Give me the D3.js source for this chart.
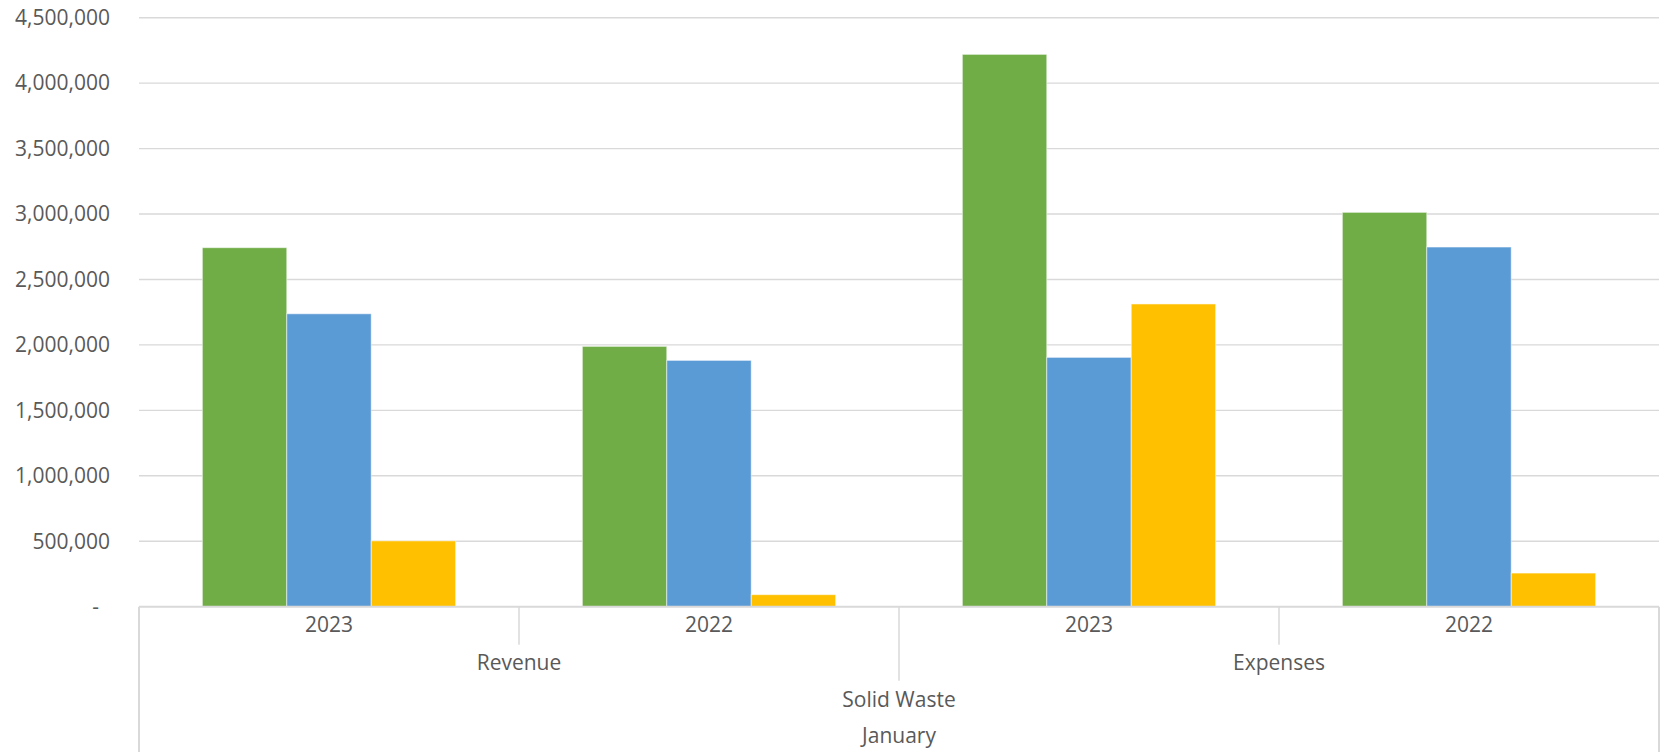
<!DOCTYPE html>
<html>
<head>
<meta charset="utf-8">
<script src="https://cdn.jsdelivr.net/npm/d3@7"></script>
<style>
  html, body { margin: 0; padding: 0; background: #fff; }
  svg { display: block; }
</style>
</head>
<body>
<svg id="chart" width="1661" height="752"></svg>
<script>
// Solid Waste, January: revenue and expenses by year, three series
const years = ["2023", "2022", "2023", "2022"];
const groups = ["Revenue", "Expenses"];
const department = "Solid Waste";
const month = "January";

const seriesGreen  = [2743000, 1989000, 4220000, 3013000];
const seriesBlue   = [2238000, 1882000, 1905000, 2748000];
const seriesYellow = [503000,  92000,   2313000, 257000];

const seriesColors = ["#70AD47", "#5B9BD5", "#FFC000"];
const yTicks = [0, 500000, 1000000, 1500000, 2000000, 2500000, 3000000, 3500000, 4000000, 4500000];

const W = 1661, H = 752;
const plot = { left: 139, right: 1659, top: 17.7, bottom: 606.7 };

const svg = d3.select("#chart");
const series = [seriesGreen, seriesBlue, seriesYellow];

const y = d3.scaleLinear().domain([0, 4500000]).range([plot.bottom, plot.top]);

const x0 = d3.scaleBand()
  .domain(d3.range(years.length))
  .range([plot.left, plot.right])
  .paddingInner(0).paddingOuter(0);

// gap between clusters is 150% of a bar width
const barW = x0.bandwidth() / (3 + 1.5);
const x1 = d3.scaleBand()
  .domain(d3.range(series.length))
  .range([barW * 0.75, barW * 0.75 + barW * 3])
  .padding(0);

const tickFmt = d3.format(",");

// horizontal gridlines
svg.append("g")
  .selectAll("line")
  .data(yTicks.filter(d => d > 0))
  .join("line")
  .attr("x1", plot.left).attr("x2", plot.right)
  .attr("y1", d => y(d)).attr("y2", d => y(d))
  .attr("stroke", "#d9d9d9").attr("stroke-width", 1.4);

// y tick labels
svg.append("g")
  .selectAll("text")
  .data(yTicks)
  .join("text")
  .attr("x", d => d === 0 ? 99 : 110)
  .attr("y", d => y(d))
  .attr("dy", "0.35em")
  .attr("text-anchor", "end")
  .attr("font-family", "'Open Sans', 'Noto Sans', sans-serif")
  .attr("font-size", 21)
  .attr("fill", "#595959")
  .text(d => d === 0 ? "-" : tickFmt(d));

// bars
const clusters = svg.append("g")
  .selectAll("g")
  .data(years.map((yr, i) => ({ i, vals: series.map(s => s[i]) })))
  .join("g")
  .attr("transform", d => `translate(${x0(d.i)},0)`);

clusters.selectAll("rect")
  .data(d => d.vals.map((v, k) => ({ v, k })))
  .join("rect")
  .attr("x", d => x1(d.k))
  .attr("width", x1.bandwidth())
  .attr("y", d => y(d.v))
  .attr("height", d => y(0) - y(d.v))
  .attr("fill", d => seriesColors[d.k])
  .attr("stroke", "#ffffff")
  .attr("stroke-opacity", 0.55)
  .attr("stroke-width", 1);

// category axis frame
const axisG = svg.append("g").attr("stroke", "#d9d9d9").attr("fill", "none");
axisG.append("line")
  .attr("x1", plot.left).attr("x2", plot.right)
  .attr("y1", y(0)).attr("y2", y(0))
  .attr("stroke-width", 2);
axisG.append("line")
  .attr("x1", plot.left).attr("x2", plot.left)
  .attr("y1", y(0)).attr("y2", H)
  .attr("stroke-width", 2);
axisG.append("line")
  .attr("x1", plot.right).attr("x2", plot.right)
  .attr("y1", y(0)).attr("y2", H)
  .attr("stroke-width", 2);

// separators between years
[1, 3].forEach(i => {
  axisG.append("line")
    .attr("x1", x0(i)).attr("x2", x0(i))
    .attr("y1", y(0)).attr("y2", y(0) + 38)
    .attr("stroke-width", 1.5);
});
// separator between revenue and expenses
axisG.append("line")
  .attr("x1", x0(2)).attr("x2", x0(2))
  .attr("y1", y(0)).attr("y2", y(0) + 74)
  .attr("stroke-width", 1.5);

const catFont = "'Open Sans', 'Noto Sans', sans-serif";
const labelG = svg.append("g")
  .attr("font-family", catFont)
  .attr("font-size", 21)
  .attr("fill", "#595959")
  .attr("text-anchor", "middle");

labelG.selectAll("text.year")
  .data(years)
  .join("text")
  .attr("class", "year")
  .attr("x", (d, i) => x0(i) + x0.bandwidth() / 2)
  .attr("y", 625)
  .attr("dy", "0.35em")
  .text(d => d);

labelG.selectAll("text.grp")
  .data(groups)
  .join("text")
  .attr("class", "grp")
  .attr("x", (d, i) => x0(i * 2) + x0.bandwidth())
  .attr("y", 663)
  .attr("dy", "0.35em")
  .text(d => d);

labelG.append("text")
  .attr("x", (plot.left + plot.right) / 2)
  .attr("y", 700)
  .attr("dy", "0.35em")
  .text(department);

labelG.append("text")
  .attr("x", (plot.left + plot.right) / 2)
  .attr("y", 736)
  .attr("dy", "0.35em")
  .text(month);
</script>
</body>
</html>
